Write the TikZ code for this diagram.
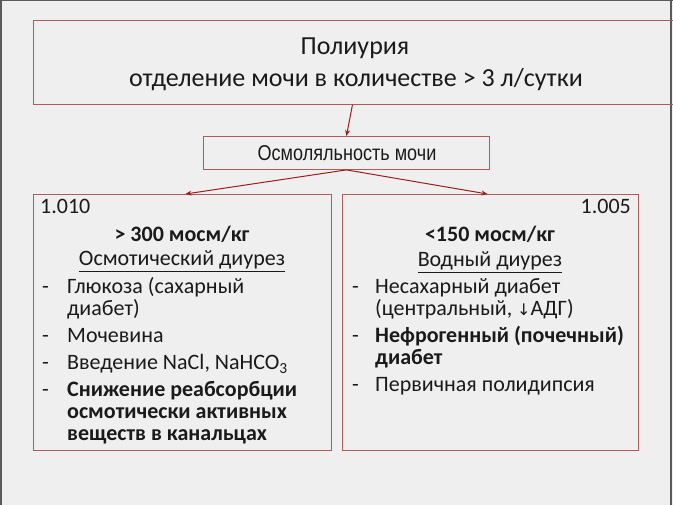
\documentclass[tikz,border=0pt]{standalone}
\usepackage{fontspec}
\setmainfont{Carlito}
\newfontfamily\narrowfont[FakeStretch=0.84]{Liberation Sans}
\newfontfamily\dejavu{DejaVu Sans}
\usetikzlibrary{arrows.meta}
\definecolor{bg}{HTML}{EFEFEF}
\definecolor{boxred}{HTML}{B05A5A}
\definecolor{arrred}{HTML}{9A1E1E}
\definecolor{framegray}{HTML}{5A5A5A}
\definecolor{txtc}{HTML}{1A1A1A}
\begin{document}
\begin{tikzpicture}[x=1pt,y=-1pt,
  box/.style={draw=boxred,line width=0.9pt,inner sep=0pt},
  conn/.style={draw=arrred,line width=1pt,-{Stealth[length=6pt,width=5pt]}},
  body/.style={inner sep=0pt,text=txtc,font=\fontsize{22}{22}\selectfont},
  title/.style={inner sep=0pt,text=txtc,font=\fontsize{26}{28}\selectfont,anchor=base},
  item/.style={body,anchor=base west,align=flush left,text width=262pt},
  dashmark/.style={body,anchor=base west}
]
\useasboundingbox (0,0) rectangle (673,505);
\fill[bg] (0,0) rectangle (673,505);
\clip (0,0) rectangle (673,505);
% frame
\draw[framegray,line width=2pt] (1,505) -- (1,0.5) -- (673,0.5);
\draw[framegray,line width=2pt] (671,0) -- (671,505);

% boxes
\node[box,anchor=north west,minimum width=660pt,minimum height=84pt] (top) at (33,20) {};
\node[box,anchor=north west,minimum width=286pt,minimum height=33pt] (osmo) at (203,136) {};
\node[box,anchor=north west,minimum width=298pt,minimum height=256pt] (left) at (33,194) {};
\node[box,anchor=north west,minimum width=296pt,minimum height=256pt] (right) at (342,194) {};

% connectors
\draw[conn] ([xshift=-11pt]top.south) -- ([xshift=0pt]osmo.north);
\draw[conn] (osmo.south) -- ([xshift=3pt]left.north);
\draw[conn] (osmo.south) -- ([xshift=-3pt]right.north);

% top texts
\node[title] (t1) at (355,55) {Полиурия};
\node[title] (t2) at (356,87) {отделение мочи в количестве > 3 л/сутки};
\node[inner sep=0pt,anchor=base,text=txtc,font=\narrowfont\fontsize{21.5}{24}\selectfont] (o1) at (347,161) {Осмоляльность мочи};

% left box
\node[body,anchor=base west] (l0) at (40,214) {1.010};
\node[body,anchor=base] (l1) at (182,242) {\bfseries > 300 мосм/кг};
\node[body,anchor=base] (l2) at (182,266) {\underline{Осмотический диурез}};
\node[dashmark] (ld1) at (42,294) {-};
\node[item] (li1) at (67,294) {Глюкоза (сахарный\\диабет)};
\node[dashmark] (ld2) at (42,343) {-};
\node[item] (li2) at (67,343) {Мочевина};
\node[dashmark] (ld3) at (42,370) {-};
\node[item] (li3) at (67,370) {Введение NaCl, NaHCO\textsubscript{3}};
\node[dashmark] (ld4) at (42,397) {-};
\node[item] (li4) at (67,397) {\bfseries Снижение реабсорбции\\осмотически активных\\веществ в канальцах};

% right box
\node[body,anchor=base east] (r0) at (631,214) {1.005};
\node[body,anchor=base] (r1) at (490,242) {\bfseries <150 мосм/кг};
\node[body,anchor=base] (r2) at (490,267) {\underline{Водный диурез}};
\node[dashmark] (rd1) at (352,294) {-};
\node[item] (ri1) at (375,294) {Несахарный диабет\\(центральный, {\dejavu\fontsize{16}{22}\selectfont ↓}АДГ)};
\node[dashmark] (rd2) at (352,343) {-};
\node[item] (ri2) at (375,343) {\bfseries Нефрогенный (почечный)\\диабет};
\node[dashmark] (rd3) at (352,392) {-};
\node[item] (ri3) at (375,392) {Первичная полидипсия};
\end{tikzpicture}
\end{document}
